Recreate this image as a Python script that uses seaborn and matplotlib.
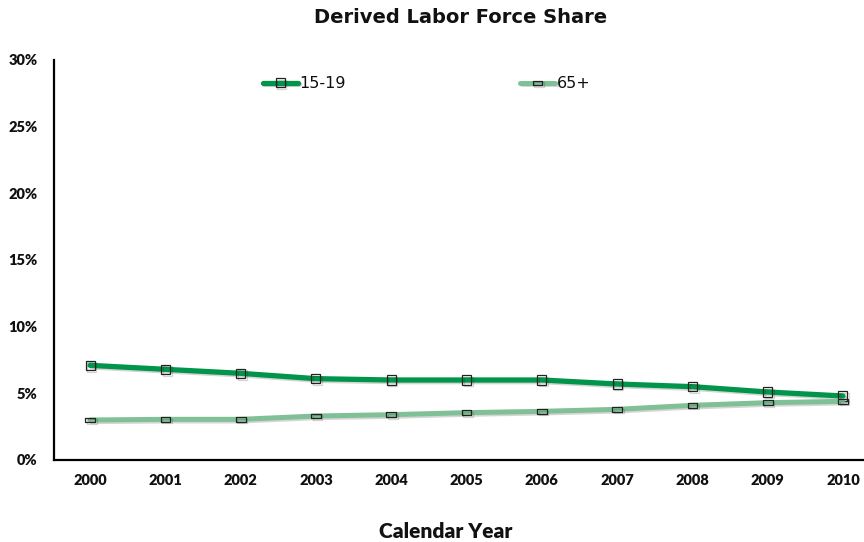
import numpy as np
import pandas as pd
import matplotlib
matplotlib.use("Agg")
import matplotlib.pyplot as plt
import matplotlib.patheffects as pe
import seaborn as sns

# data (percent of labor force)
years = [2000, 2001, 2002, 2003, 2004, 2005, 2006, 2007, 2008, 2009, 2010]
teen_share = [7.1, 6.8, 6.5, 6.1, 6.0, 6.0, 6.0, 5.7, 5.5, 5.1, 4.8]
senior_share = [3.0, 3.05, 3.05, 3.3, 3.4, 3.55, 3.65, 3.8, 4.1, 4.3, 4.4]
y_ticks = [0, 5, 10, 15, 20, 25, 30]

df = pd.DataFrame({"Year": years, "15-19": teen_share, "65+": senior_share})

sns.set_theme(style="white")
plt.rcParams["font.family"] = ["DejaVu Sans"]

fig = plt.figure(figsize=(8.64, 5.42), dpi=100)
ax = fig.add_axes([0.0625, 0.1513, 0.9375, 0.738])

shadow = [pe.SimpleLineShadow(offset=(1.2, -1.2), alpha=0.18), pe.Normal()]
flat_rect = [(-1, -0.45), (1, -0.45), (1, 0.45), (-1, 0.45), (-1, -0.45)]

sns.lineplot(data=df, x="Year", y="15-19", ax=ax, color="#00954A", lw=3.8,
             marker="s", markersize=6.5, markerfacecolor="none",
             markeredgecolor="#222222", markeredgewidth=0.9, label="15-19",
             path_effects=shadow)
sns.lineplot(data=df, x="Year", y="65+", ax=ax, color="#80C096", lw=3.6,
             marker=flat_rect, markersize=7, markerfacecolor="none",
             markeredgecolor="#222222", markeredgewidth=0.9, label="65+",
             path_effects=shadow)

ax.set_xlim(1999.52, 2010.28)
ax.set_ylim(0, 30)
ax.set_xticks(years)
ax.set_yticks(y_ticks)
ax.set_yticklabels([f"{t}%" for t in y_ticks])
ax.tick_params(axis="both", length=0, labelsize=10.5)
ax.tick_params(axis="y", pad=12)
ax.tick_params(axis="x", pad=10)
for lab in ax.get_xticklabels() + ax.get_yticklabels():
    lab.set_fontfamily("Lato")
    lab.set_fontweight("heavy")
    lab.set_color("#111111")

for side in ["top", "right"]:
    ax.spines[side].set_visible(False)
for side in ["left", "bottom"]:
    ax.spines[side].set_color("black")
    ax.spines[side].set_linewidth(1.6)

ax.set_ylabel("")
ax.set_xlabel("Calendar Year", fontsize=15, fontweight="heavy", family="Lato",
              color="#111111", va="center")
ax.xaxis.set_label_coords(0.484, -0.178)
fig.suptitle("Derived Labor Force Share", fontsize=14, fontweight="bold",
             x=0.533, y=0.985, color="#111111")

leg = ax.legend(loc="upper center", bbox_to_anchor=(0.46, 0.995), ncol=2,
                frameon=False, fontsize=11.5, columnspacing=10.9,
                handlelength=2.2, handletextpad=0.1)
for t in leg.get_texts():
    t.set_color("#111111")

fig.savefig("out.png", dpi=100)
